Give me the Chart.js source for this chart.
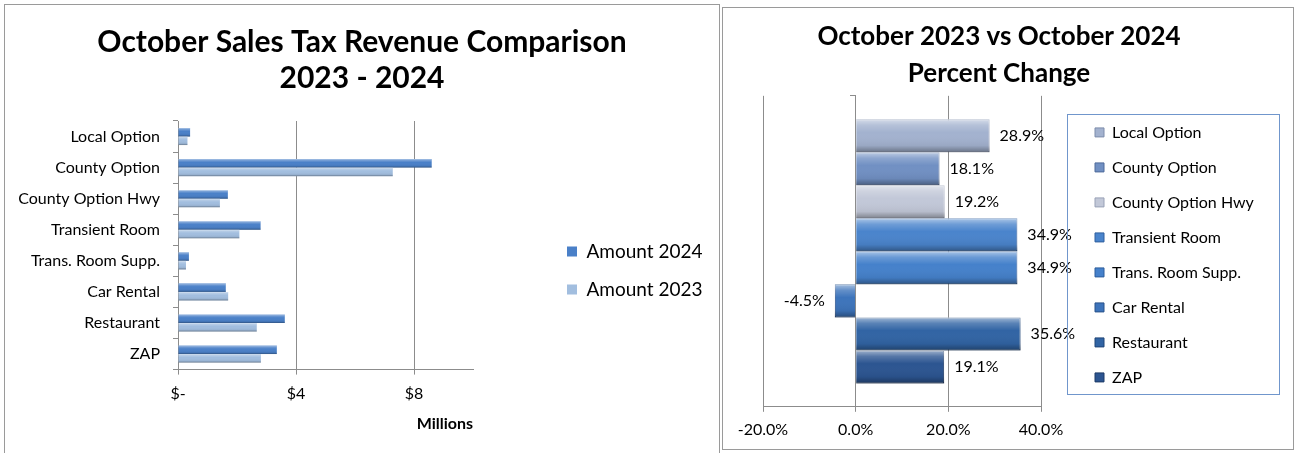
<!DOCTYPE html>
<html>
<head>
<meta charset="utf-8">
<script src="https://cdn.jsdelivr.net/npm/chart.js@4.4.1/dist/chart.umd.min.js"></script>
<style>
  body { margin: 0; background: #fff; }
  .panel { position: absolute; border: 1px solid #9a9a9a; background: #fff; }
  #leftPanel { left: 4px; top: 4px; width: 714px; height: 449px; }
  #rightPanel { left: 722px; top: 7px; width: 570px; height: 441px; }
</style>
</head>
<body>
<div class="panel" id="leftPanel"><canvas id="amountChart"></canvas></div>
<div class="panel" id="rightPanel"><canvas id="pctChart"></canvas></div>
<script>
// categories (top to bottom)
const categories = ['Local Option', 'County Option', 'County Option Hwy', 'Transient Room',
  'Trans. Room Supp.', 'Car Rental', 'Restaurant', 'ZAP'];
// revenue in $ millions
const amount2024 = [0.41, 8.60, 1.69, 2.80, 0.37, 1.62, 3.62, 3.35];
const amount2023 = [0.32, 7.28, 1.42, 2.08, 0.27, 1.70, 2.67, 2.81];
const amountTicks = [0, 4, 8];
// percent change Oct 2023 -> Oct 2024
const pctChange = [28.9, 18.1, 19.2, 34.9, 34.9, -4.5, 35.6, 19.1];
const pctFill = ['#a3b2cf', '#7190c3', '#c2c8d8', '#4a84cc', '#4581cb', '#3d74bb', '#3164a4', '#2c5591'];
const pctEdge = ['#7d8cab', '#4e6a9a', '#98a1b6', '#2f5f9e', '#2d5d9c', '#28528a', '#1f4477', '#1c3a66'];

Chart.defaults.font.family = "Lato, 'Noto Sans', sans-serif";
Chart.defaults.color = '#000';

// shading over each bar to get the bevelled look
const bevel = {
  id: 'bevel',
  afterDatasetsDraw(chart) {
    const ctx = chart.ctx;
    chart.data.datasets.forEach((ds, i) => {
      chart.getDatasetMeta(i).data.forEach(el => {
        const {x, y, base, height} = el.getProps(['x', 'y', 'base', 'height'], true);
        const left = Math.min(x, base), w = Math.abs(x - base), top = y - height / 2;
        const g = ctx.createLinearGradient(0, top, 0, top + height);
        g.addColorStop(0, 'rgba(255,255,255,0.55)');
        g.addColorStop(0.18, 'rgba(255,255,255,0.2)');
        g.addColorStop(0.4, 'rgba(255,255,255,0)');
        g.addColorStop(0.8, 'rgba(0,0,0,0.06)');
        g.addColorStop(1, 'rgba(0,0,0,0.35)');
        ctx.save();
        ctx.fillStyle = g;
        ctx.fillRect(left, top, w, height);
        ctx.restore();
      });
    });
  }
};

// give the legend a set width so the plot keeps its place
const legendWidth = w => ({
  id: 'legendWidth',
  afterInit(chart) {
    const lg = chart.legend;
    const fit = lg.fit.bind(lg);
    lg.fit = () => { fit(); lg.width = w; };
  }
});

const amountChart = new Chart(document.getElementById('amountChart'), {
  type: 'bar',
  data: {
    labels: categories,
    datasets: [{
      label: 'Amount 2024',
      data: amount2024,
      backgroundColor: '#4a80c8',
      borderColor: '#2c5a94',
      borderWidth: 0
    }, {
      label: 'Amount 2023',
      data: amount2023,
      backgroundColor: '#a2bedf',
      borderColor: '#6f84a6',
      borderWidth: 0
    }]
  },
  options: {
    indexAxis: 'y',
    animation: false,
    maintainAspectRatio: false,
    categoryPercentage: 0.55,
    barPercentage: 1,
    layout: { padding: { left: 0, right: 0, top: 0, bottom: 21 } },
    scales: {
      x: {
        min: 0,
        max: 10,
        ticks: { stepSize: 4, padding: 10, font: { size: 16 }, callback: v => v === 0 ? '$-' : '$' + v },
        afterBuildTicks: s => { s.ticks = s.ticks.filter(t => amountTicks.includes(t.value)); },
        grid: { color: '#8c8c8c', tickLength: 5 },
        border: { color: '#8c8c8c' },
        title: { display: true, text: 'Millions', align: 'end', font: { size: 16, weight: 'bold' }, padding: { top: 0, bottom: 0 } }
      },
      y: {
        ticks: { font: { size: 16 }, padding: 13 },
        grid: { drawOnChartArea: false, tickLength: 5, color: '#8c8c8c' },
        border: { color: '#8c8c8c' },
        afterFit: s => { s.width = 173; }
      },
      y2: {
        position: 'right',
        grid: { display: false },
        border: { display: false },
        ticks: { display: false },
        afterFit: s => { s.width = 75; }
      }
    },
    plugins: {
      title: {
        display: true,
        text: ['October Sales Tax Revenue Comparison', '2023 - 2024'],
        font: { size: 30, weight: 'bold', lineHeight: 1.2 },
        padding: { top: 19, bottom: 25 }
      },
      legend: {
        position: 'right',
        fullSize: false,
        title: { display: true, text: '', padding: 18 },
        labels: { font: { size: 19 }, boxWidth: 10, boxHeight: 10, padding: 19 }
      },
      tooltip: { enabled: false }
    }
  },
  plugins: [bevel, legendWidth(171)]
});

// value labels at the bar ends
const pctLabels = {
  id: 'pctLabels',
  afterDatasetsDraw(chart) {
    const ctx = chart.ctx;
    ctx.save();
    ctx.font = "16px Lato, 'Noto Sans', sans-serif";
    ctx.fillStyle = '#000';
    ctx.textBaseline = 'middle';
    chart.data.datasets.forEach((ds, i) => {
      const el = chart.getDatasetMeta(i).data[0];
      const v = ds.data[0];
      if (v >= 0) { ctx.textAlign = 'left'; ctx.fillText(v.toFixed(1) + '%', el.x + 10, el.y); }
      else { ctx.textAlign = 'right'; ctx.fillText(v.toFixed(1) + '%', el.x - 10, el.y); }
    });
    ctx.restore();
  }
};

// frame round the legend
const legendFrame = {
  id: 'legendFrame',
  afterDraw(chart) {
    const hb = chart.legend.legendHitBoxes;
    if (!hb || !hb.length) return;
    const first = hb[0], last = hb[hb.length - 1];
    const left = Math.round(first.left - 28) + 0.5;
    const top = Math.round(first.top + first.height / 2 - 18) + 0.5;
    const bottom = Math.round(last.top + last.height / 2 + 17) + 0.5;
    const ctx = chart.ctx;
    ctx.save();
    ctx.strokeStyle = '#7096cc';
    ctx.lineWidth = 1;
    ctx.strokeRect(left, top, 212, bottom - top);
    ctx.restore();
  }
};

const pctChart = new Chart(document.getElementById('pctChart'), {
  type: 'bar',
  data: {
    labels: [''],
    datasets: categories.map((c, i) => ({
      label: c,
      data: [pctChange[i]],
      backgroundColor: pctFill[i],
      borderColor: pctEdge[i],
      borderWidth: 1
    }))
  },
  options: {
    indexAxis: 'y',
    animation: false,
    maintainAspectRatio: false,
    categoryPercentage: 0.85,
    barPercentage: 1,
    layout: { padding: { left: 0, right: 18, top: 0, bottom: 2 } },
    scales: {
      x: {
        min: -20,
        max: 40,
        ticks: { stepSize: 20, padding: 8, font: { size: 16 }, callback: v => v.toFixed(1) + '%' },
        grid: { color: '#8c8c8c', tickLength: 5 },
        border: { color: '#8c8c8c' }
      },
      y: {
        position: { x: 0 },
        ticks: { display: false },
        grid: { drawOnChartArea: false, tickLength: 5, color: '#8c8c8c' },
        border: { color: '#8c8c8c' }
      },
      y2: {
        position: 'left',
        grid: { display: false },
        border: { display: false },
        ticks: { display: false },
        afterFit: s => { s.width = 40; }
      },
      y3: {
        position: 'right',
        grid: { display: false },
        border: { display: false },
        ticks: { display: false },
        afterFit: s => { s.width = 35; }
      }
    },
    plugins: {
      title: {
        display: true,
        text: ['October 2023 vs October 2024', 'Percent Change'],
        font: { size: 26, weight: 'bold', lineHeight: 1.42 },
        padding: { top: 10, bottom: 4 }
      },
      legend: {
        position: 'right',
        fullSize: false,
        title: { display: true, text: '', font: { size: 6 }, padding: 0 },
        labels: { font: { size: 16 }, boxWidth: 9, boxHeight: 9, padding: 19 }
      },
      tooltip: { enabled: false }
    }
  },
  plugins: [bevel, pctLabels, legendFrame, legendWidth(199)]
});
</script>
</body>
</html>
